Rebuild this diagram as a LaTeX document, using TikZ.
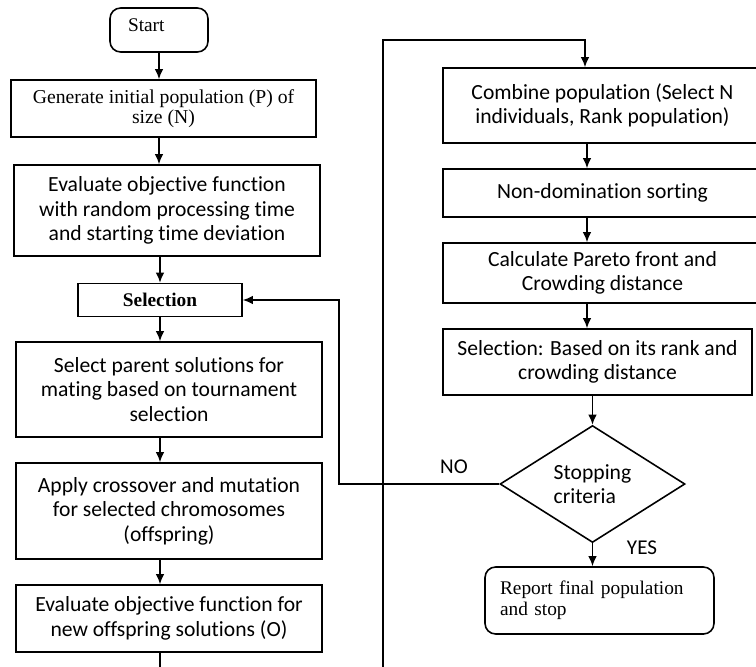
\documentclass[tikz,border=0pt]{standalone}
\usepackage{fontspec}
\setmainfont{Liberation Serif}
\newfontfamily\calfont[Ligatures=NoCommon]{Carlito}
\usetikzlibrary{arrows.meta,shapes.geometric}

\begin{document}
\begin{tikzpicture}[x=0.02cm,y=-0.02cm,>={Latex[length=2mm,width=1.7mm]},line width=0.9pt,
		box/.style={draw, inner sep=0pt, align=center, font=\calfont\fontsize{12.3}{13.9}\selectfont},
		tbox/.style={draw, inner sep=0pt, align=center, font=\fontsize{11.2}{11.4}\selectfont},
		rbox/.style={draw, rounded corners=6pt, inner xsep=0.3cm, align=left, font=\fontsize{11}{12}\selectfont},
		lbl/.style={font=\calfont\fontsize{12}{13}\selectfont}]
		%\draw [help lines] (0,0) grid (756,666);
		\useasboundingbox (0,0) rectangle (756,666);
		\clip (0,0) rectangle (756,666);
		\coordinate (lx) at (160,0);
		\coordinate (rx) at (587,0);

		\node [rbox, inner xsep=0.36cm, text width=1.24cm, minimum height=0.88cm, text depth=6pt] (start) at (159,30) {Start};
		\node [tbox, minimum width=6.1cm, minimum height=1.14cm] (gen) at (163.5,108.5) {Generate initial population (P) of\\size (N)};
		\node [box, minimum width=6.12cm, minimum height=1.82cm] (eval) at (167,210.5) {Evaluate objective function\\with random processing time\\and starting time deviation};
		\node [tbox, minimum width=3.28cm, minimum height=0.66cm, font=\bfseries\fontsize{11}{12}\selectfont] (sel) at (160,300) {Selection};
		\node [box, minimum width=6.12cm, minimum height=1.9cm] (parent) at (169,389.5) {Select parent solutions for\\mating based on tournament\\selection};
		\node [box, minimum width=6.12cm, minimum height=1.92cm] (apply) at (169,511) {Apply crossover and mutation\\for selected chromosomes\\(offspring)};
		\node [box, minimum width=6.12cm, minimum height=1.34cm] (evaloff) at (169,618.5) {Evaluate objective function for\\new offspring solutions (O)};

		\node [box, minimum width=6.38cm, minimum height=1.5cm] (comb) at (602.5,105.5) {Combine population (Select N\\individuals, Rank population)};
		\node [box, minimum width=6.38cm, minimum height=0.96cm] (nondom) at (602.5,193) {Non-domination sorting};
		\node [box, minimum width=6.38cm, minimum height=1.2cm] (pareto) at (602.5,273) {Calculate Pareto front and\\Crowding distance};
		\node [box, minimum width=6.18cm, minimum height=1.32cm] (rank) at (597.5,362) {Selection: Based on its rank and\\crowding distance};
		\node [box, diamond, align=left, minimum width=3.7cm, minimum height=2.32cm] (stop) at (592.5,484) {Stopping\\criteria};
		\node [rbox, text width=3.98cm, minimum height=1.34cm] (report) at (599.5,600.5) {Report final population\\and stop};

		\node [lbl] (no) at (454,467) {NO};
		\node [lbl] (yes) at (642,548) {YES};

		\draw [->] (start.south) -- (start.south |- gen.north);
		\draw [->] (gen.south -| start.south) -- (eval.north -| start.south);
		\draw [->] (eval.south -| lx) -- (sel.north -| lx);
		\draw [->] (sel.south -| lx) -- (parent.north -| lx);
		\draw [->] (parent.south -| lx) -- (apply.north -| lx);
		\draw [->] (apply.south -| lx) -- (evaloff.north -| lx);

		\coordinate (loopbot) at (383,700);
		\coordinate (looptop) at (585,40);
		\draw [->] (evaloff.south -| lx) |- (loopbot) |- (looptop) -- (looptop |- comb.north);

		\draw [->] (comb.south -| rx) -- (nondom.north -| rx);
		\draw [->] (nondom.south -| rx) -- (pareto.north -| rx);
		\draw [->] (pareto.south -| rx) -- (rank.north -| rx);
		\draw [->] (stop.north |- rank.south) -- (stop.north);
		\draw [->] (stop.south) -- (stop.south |- report.north);

		\coordinate (nox) at (339,484);
		\draw [->] (stop.west) -- (nox) |- (sel.east);
	\end{tikzpicture}
\end{document}
